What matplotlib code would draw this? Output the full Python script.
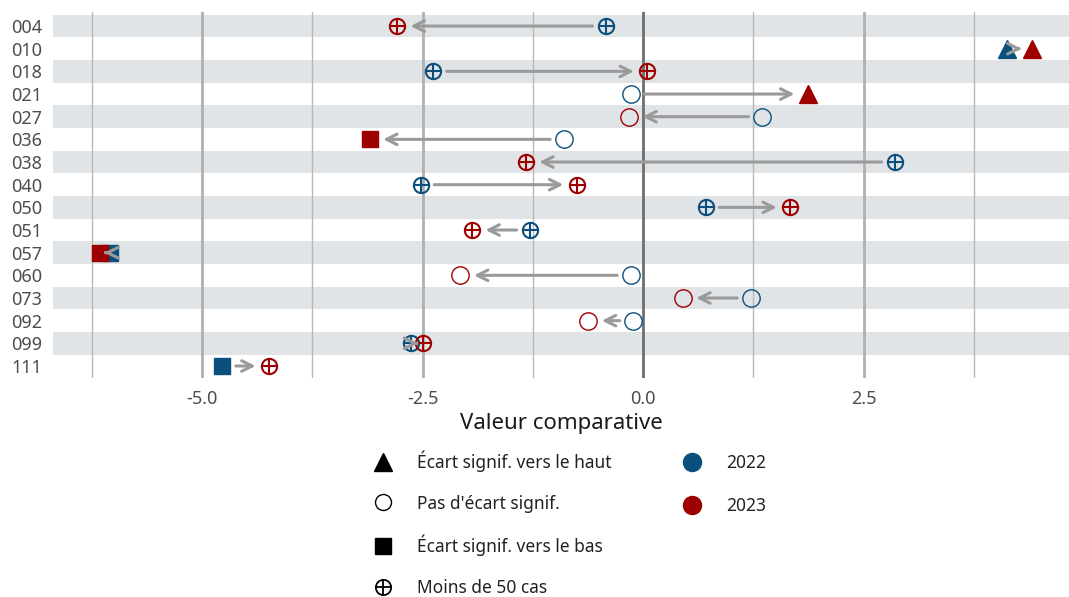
import matplotlib
matplotlib.use("Agg")
import matplotlib.pyplot as plt
from matplotlib.lines import Line2D

plt.rcParams["font.family"] = ["Noto Sans", "DejaVu Sans"]

# ---------------- data ----------------
codes = ['004', '010', '018', '021', '027', '036', '038', '040',
         '050', '051', '057', '060', '073', '092', '099', '111']
val_2022 = [-0.42, 4.13, -2.38, -0.14, 1.35, -0.90, 2.86, -2.52,
            0.71, -1.28, -6.04, -0.14, 1.22, -0.11, -2.63, -4.77]
val_2023 = [-2.79, 4.41, 0.05, 1.87, -0.16, -3.10, -1.33, -0.75,
            1.67, -1.94, -6.16, -2.07, 0.45, -0.62, -2.49, -4.24]
# up = écart vers le haut, ns = pas d'écart, down = vers le bas, few = < 50 cas
type_2022 = ['few', 'up', 'few', 'ns', 'ns', 'ns', 'few', 'few',
             'few', 'few', 'down', 'ns', 'ns', 'ns', 'few', 'down']
type_2023 = ['few', 'up', 'few', 'up', 'ns', 'down', 'few', 'few',
             'few', 'few', 'down', 'ns', 'ns', 'ns', 'few', 'few']

major_ticks = [-5.0, -2.5, 0.0, 2.5]
minor_grid = [-6.25, -3.75, -1.25, 1.25, 3.75]

BLUE = '#0b4f7c'
RED = '#9e0000'
ARROW = '#9a9a9a'


def draw_point(ax, x, y, kind, color):
    if kind == 'up':
        ax.plot(x, y, marker='^', ms=13, color=color, mec=color, ls='none', zorder=4)
    elif kind == 'down':
        ax.plot(x, y, marker='s', ms=11, color=color, mec=color, ls='none', zorder=4)
    elif kind == 'ns':
        ax.plot(x, y, marker='o', ms=12.5, mfc='none', mec=color, mew=1.0, ls='none', zorder=4)
    else:
        ax.plot(x, y, marker='o', ms=11, mfc='none', mec=color, mew=1.5, ls='none', zorder=4)
        ax.plot(x, y, marker='+', ms=11, mec=color, mew=1.5, ls='none', zorder=4)


fig = plt.figure(figsize=(10.69, 5.97), dpi=100)
ax = fig.add_axes([53 / 1069, 1 - 378 / 597, 1 - 53 / 1069, (378 - 12) / 597])

n = len(codes)
ax.set_xlim(-6.69, 4.83)
ax.set_ylim(n - 1 + 0.53, -0.62)

# alternating bands
for i in range(n):
    if i % 2 == 0:
        ax.axhspan(i - 0.5, i + 0.5, color='#e1e4e7', lw=0, zorder=0)

# grid
for g in minor_grid:
    ax.axvline(g, color='#b8b8b8', lw=1.0, zorder=1)
for g in major_ticks:
    if g == 0:
        ax.axvline(g, color='#6e6e6e', lw=2.0, zorder=1)
    else:
        ax.axvline(g, color='#b0b0b0', lw=2.0, zorder=1)

# points and arrows
px_per_unit = fig.get_figwidth() * fig.dpi * ax.get_position().width / (4.83 + 6.69)
for i in range(n):
    x0, x1 = val_2022[i], val_2023[i]
    draw_point(ax, x0, i, type_2022[i], BLUE)
    draw_point(ax, x1, i, type_2023[i], RED)
    dist_px = abs(x1 - x0) * px_per_unit
    shrink_px = min(13.5, 0.42 * dist_px)
    ax.annotate('', xy=(x1, i), xytext=(x0, i),
                arrowprops=dict(arrowstyle='->', color=ARROW, lw=2.2,
                                mutation_scale=19,
                                shrinkA=shrink_px * 0.72, shrinkB=shrink_px * 0.72),
                zorder=5)

ax.set_yticks(range(n))
ax.set_yticklabels(codes)
ax.set_xticks(major_ticks)
ax.set_xticklabels(['%.1f' % t for t in major_ticks])
ax.tick_params(axis='both', length=0, labelsize=13, labelcolor='#4d4d4d')
ax.tick_params(axis='y', pad=8)
ax.tick_params(axis='x', pad=9)
ax.set_xlabel('Valeur comparative', fontsize=16, color='#1a1a1a', labelpad=3)
for s in ax.spines.values():
    s.set_visible(False)

# legend
oplus = (Line2D([], [], marker='o', ms=11, mfc='none', mec='black', mew=1.3, ls='none'),
         Line2D([], [], marker='+', ms=11, mec='black', mew=1.3, ls='none'))
shape_handles = [
    Line2D([], [], marker='^', ms=13, color='black', ls='none'),
    Line2D([], [], marker='o', ms=11.5, mfc='none', mec='black', mew=1.0, ls='none'),
    Line2D([], [], marker='s', ms=11, color='black', ls='none'),
    oplus,
]
shape_labels = ['Écart signif. vers le haut', "Pas d'écart signif.",
                'Écart signif. vers le bas', 'Moins de 50 cas']
year_handles = [
    Line2D([], [], marker='o', ms=13, color=BLUE, ls='none'),
    Line2D([], [], marker='o', ms=13, color=RED, ls='none'),
]
year_labels = ['2022', '2023']

W, H = 1069, 597
leg_kw = dict(loc='upper left', frameon=False, fontsize=12.5, borderpad=0,
              handlelength=1.0, handletextpad=1.45, labelcolor='#222222')
leg1 = fig.legend(shape_handles, shape_labels, labelspacing=1.29,
                  bbox_to_anchor=(366 / W, 1 - 442 / H), **leg_kw)
leg2 = fig.legend(year_handles, year_labels, labelspacing=1.45,
                  bbox_to_anchor=(675 / W, 1 - 445 / H), **leg_kw)

fig.savefig('out.png', dpi=100)
